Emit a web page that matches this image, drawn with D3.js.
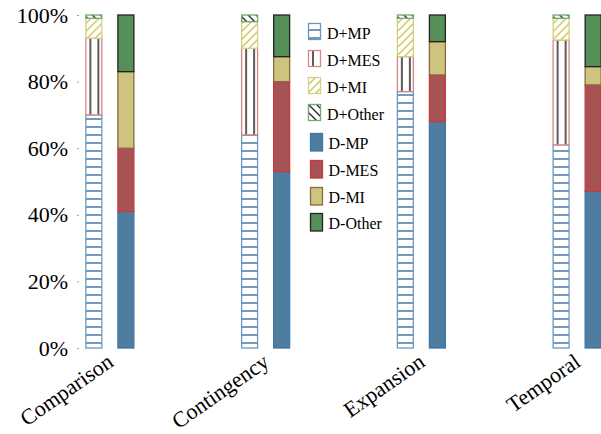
<!DOCTYPE html>
<html><head><meta charset="utf-8">
<script src="https://cdn.jsdelivr.net/npm/d3@7/dist/d3.min.js"></script>
<style>
html,body{margin:0;padding:0;background:#fff;}
svg{display:block;font-family:"Liberation Serif","Times New Roman",serif;}
</style></head>
<body>
<svg id="chart" width="601" height="434"></svg>
<script>
const categories = ["Comparison","Contingency","Expansion","Temporal"];
const dPlusMP    = [70, 64, 77, 61];
const dPlusMES   = [23, 26, 10.5, 31.5];
const dPlusMI    = [6, 8, 11.5, 6.5];
const dPlusOther = [1, 2, 1, 1];
const dMinusMP    = [41, 53, 68, 47];
const dMinusMES   = [19, 27, 14, 32];
const dMinusMI    = [23, 7.5, 10, 5.5];
const dMinusOther = [17, 12.5, 8, 15.5];
const yTicks = [0, 20, 40, 60, 80, 100];
const plusKeys = ["D+MP","D+MES","D+MI","D+Other"];
const minusKeys = ["D-MP","D-MES","D-MI","D-Other"];

const svg = d3.select("#chart");
const defs = svg.append("defs");

function pat(id, draw){
  const p = defs.append("pattern").attr("id", id).attr("patternUnits","userSpaceOnUse")
    .attr("width", 8).attr("height", 8);
  p.append("rect").attr("width",8).attr("height",8).attr("fill","#fff");
  draw(p);
}
pat("pMP", p => p.append("line").attr("x1",0).attr("x2",8).attr("y1",7).attr("y2",7).attr("stroke","#4577a6").attr("stroke-width",1.5));
pat("pMES", p => p.append("line").attr("x1",5).attr("x2",5).attr("y1",0).attr("y2",8).attr("stroke","#333").attr("stroke-width",1.6));
pat("pMI", p => { p.append("path").attr("d","M-2,10 L10,-2 M-2,2 L2,-2 M6,10 L10,6").attr("stroke","#cbc24c").attr("stroke-width",1.3); });
pat("pOther", p => { p.append("path").attr("d","M-2,-2 L10,10 M6,-2 L10,2 M-2,6 L2,10").attr("stroke","#222").attr("stroke-width",1.3); });

const styles = {
  "D+MP":   {fill:"url(#pMP)", stroke:"#6a98c2"},
  "D+MES":  {fill:"url(#pMES)", stroke:"#d98585"},
  "D+MI":   {fill:"url(#pMI)", stroke:"#d6ce84"},
  "D+Other":{fill:"url(#pOther)", stroke:"#6fa96f"},
  "D-MP":   {fill:"#4e7da0", stroke:"#3f77a6"},
  "D-MES":  {fill:"#a75254", stroke:"#c93a3c"},
  "D-MI":   {fill:"#cfc47f", stroke:"#8a6a3e"},
  "D-Other":{fill:"#568f57", stroke:"#222"}
};

const rows = categories.map((c,i) => ({
  cat: c,
  "D+MP": dPlusMP[i], "D+MES": dPlusMES[i], "D+MI": dPlusMI[i], "D+Other": dPlusOther[i],
  "D-MP": dMinusMP[i], "D-MES": dMinusMES[i], "D-MI": dMinusMI[i], "D-Other": dMinusOther[i]
}));

const x = d3.scaleBand().domain(categories).range([32, 655]).padding(0);
const bw = x.bandwidth();
const xSub = d3.scaleBand().domain(["plus","minus"]).range([bw/2-24.5, bw/2+24.5]).paddingInner(0.47).paddingOuter(0);
const y = d3.scaleLinear().domain([0,100]).range([348, 15]);

const yAxis = d3.axisLeft(y).tickValues(yTicks).tickFormat(d => d + "%").tickSize(2).tickPadding(9);
const ya = svg.append("g").attr("transform","translate(79,0)").call(yAxis);
ya.select(".domain").remove();
ya.selectAll(".tick line").attr("stroke","#999");
ya.selectAll(".tick text").attr("font-size", 22).attr("fill","#000").attr("font-family","'Liberation Serif',serif");

function drawStack(keys, sub){
  const series = d3.stack().keys(keys)(rows);
  series.forEach(s => {
    const st = styles[s.key];
    s.forEach(d => {
      const g = svg.append("g").attr("transform", `translate(${x(d.data.cat) + xSub(sub)},0)`);
      g.append("rect")
        .attr("x", 0.5).attr("width", xSub.bandwidth()-1)
        .attr("y", y(d[1])).attr("height", y(d[0]) - y(d[1]))
        .attr("fill", st.fill).attr("stroke", st.stroke).attr("stroke-width", 1.3);
    });
  });
}
drawStack(plusKeys, "plus");
drawStack(minusKeys, "minus");

categories.forEach(c => {
  svg.append("text")
    .attr("transform", `translate(${x(c) + bw/2 + 5},365) rotate(-35)`)
    .attr("text-anchor","end")
    .attr("font-size", 22)
    .text(c);
});

const legendKeys = plusKeys.concat(minusKeys);
const legendY = [23, 50, 77, 104, 133, 160, 187, 213];
legendKeys.forEach((k,i) => {
  const st = styles[k];
  const px = i < 4 ? 308 : 310;
  const g = svg.append("g").attr("transform", `translate(${px},${legendY[i]})`);
  g.append("rect").attr("x",0.5).attr("y",0.5).attr("width",12).attr("height", i < 4 ? 16 : 17.5)
    .attr("fill", st.fill).attr("stroke", st.stroke).attr("stroke-width", 1.3);
  svg.append("text").attr("x", i < 4 ? 327 : 328.5).attr("y", legendY[i] + 16)
    .attr("font-size", 16).text(k);
});
</script>
</body></html>
